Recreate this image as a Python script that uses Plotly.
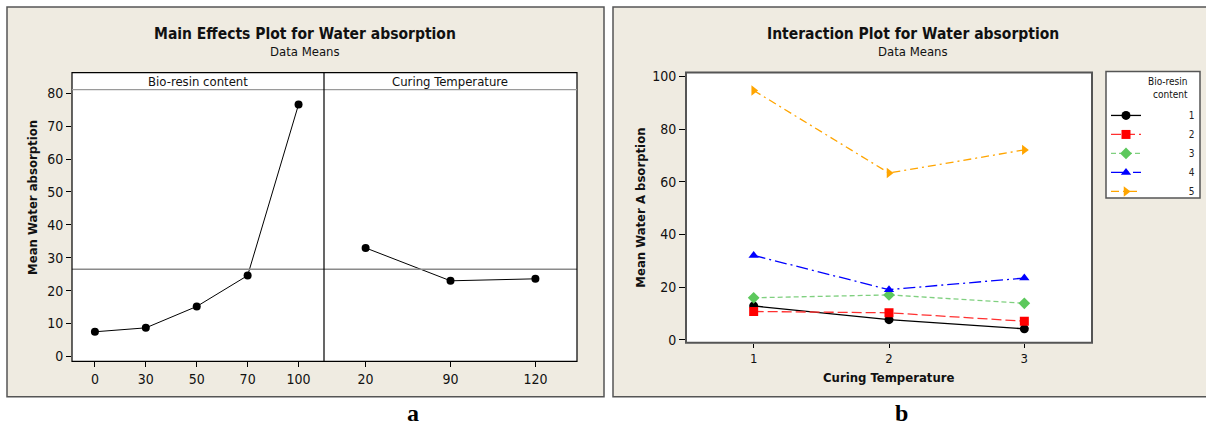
import plotly.graph_objects as go

# ---------------- data ----------------
bio_levels = ["0", "30", "50", "70", "100"]
bio_means = [7.5, 8.7, 15.2, 24.6, 76.6]
temp_levels = ["20", "90", "120"]
temp_means = [33.0, 23.0, 23.6]

curing_x = [1, 2, 3]
series_names = ["1", "2", "3", "4", "5"]
inter_1 = [12.8, 7.6, 4.1]
inter_2 = [10.7, 10.2, 7.0]
inter_3 = [15.9, 17.0, 13.8]
inter_4 = [32.0, 19.0, 23.4]
inter_5 = [94.7, 63.3, 72.1]
inter_values = [inter_1, inter_2, inter_3, inter_4, inter_5]

left_yticks = [0, 10, 20, 30, 40, 50, 60, 70, 80]
right_yticks = [0, 20, 40, 60, 80, 100]

# ---------------- styles ----------------
W, H = 1206, 432
def X(px):
    return px / W
def Y(py):
    return 1 - py / H

BEIGE = "#EFEBE1"
FONT = "DejaVu Sans Condensed, DejaVu Sans, sans-serif"
styles = [
    dict(color="black", dash="solid", symbol="circle", mcolor="black"),
    dict(color="#FF3030", dash="10px,4px", symbol="square", mcolor="#FF0000"),
    dict(color="#80D080", dash="5px,3px", symbol="diamond", mcolor="#5CC85C"),
    dict(color="#0000FF", dash="12px,4px,2px,4px", symbol="triangle-up", mcolor="#0000FF"),
    dict(color="#FFA500", dash="8px,4px,2px,4px", symbol="triangle-right", mcolor="#FFA500"),
]

fig = go.Figure()

# main effects
fig.add_trace(go.Scatter(x=bio_levels, y=bio_means, xaxis="x", yaxis="y",
                         mode="lines+markers", showlegend=False,
                         line=dict(color="black", width=1),
                         marker=dict(color="black", size=8, symbol="circle")))
fig.add_trace(go.Scatter(x=temp_levels, y=temp_means, xaxis="x2", yaxis="y",
                         mode="lines+markers", showlegend=False,
                         line=dict(color="black", width=1),
                         marker=dict(color="black", size=8, symbol="circle")))

# interaction
pad = "\u00a0" * 15
for name, vals, st in zip(series_names, inter_values, styles):
    fig.add_trace(go.Scatter(x=curing_x, y=vals, xaxis="x3", yaxis="y3",
                             mode="lines+markers", name=pad + name,
                             line=dict(color=st["color"], width=1.3, dash=st["dash"]),
                             marker=dict(color=st["mcolor"], size=9, symbol=st["symbol"])))

grand_mean = sum(bio_means) / len(bio_means)

tickfont = dict(family=FONT, size=14, color="#111")
axis_common = dict(showgrid=False, zeroline=False, ticks="outside", ticklen=5,
                   tickcolor="black", tickwidth=1, tickfont=tickfont, showline=False)

fig.update_layout(
    width=W, height=H, margin=dict(l=0, r=0, t=0, b=0),
    paper_bgcolor="white", plot_bgcolor="white",
    font=dict(family=FONT, size=12, color="#222"),
    xaxis=dict(domain=[X(72), X(324)], type="category", range=[-0.45, 4.5],
               anchor="y", **axis_common),
    xaxis2=dict(domain=[X(324), X(577)], type="category", range=[-0.49, 2.49],
                anchor="y", **axis_common),
    yaxis=dict(domain=[Y(365), Y(87.5)], range=[-1.5, 81.1], tickvals=left_yticks,
               anchor="x", **axis_common),
    xaxis3=dict(domain=[X(686), X(1092)], range=[0.5, 3.5], tickvals=curing_x,
                anchor="y3", **{**axis_common, "ticklen": 4,
                                "tickfont": dict(family=FONT, size=13, color="#111")}),
    yaxis3=dict(domain=[Y(346), Y(70)], range=[-1.2, 101.5], tickvals=right_yticks,
                anchor="x3", **{**axis_common, "ticklen": 6}),
    legend=dict(x=X(1106), xanchor="left", y=Y(99), yanchor="top",
                bgcolor="rgba(0,0,0,0)", borderwidth=0,
                font=dict(family=FONT, size=10, color="#222"),
                tracegroupgap=0, itemwidth=30),
)

shapes = []
# beige panels
shapes.append(dict(type="rect", xref="paper", yref="paper", x0=X(7), x1=X(604), y0=Y(401), y1=Y(3),
                   fillcolor=BEIGE, line=dict(color="#555", width=1.5), layer="below"))
shapes.append(dict(type="rect", xref="paper", yref="paper", x0=X(613), x1=X(1210), y0=Y(401), y1=Y(3),
                   fillcolor=BEIGE, line=dict(color="#555", width=1.5), layer="below"))
# left white plot area
shapes.append(dict(type="rect", xref="paper", yref="paper", x0=X(72), x1=X(577), y0=Y(365), y1=Y(70),
                   fillcolor="white", line=dict(width=0), layer="below"))
# right white plot area
shapes.append(dict(type="rect", xref="paper", yref="paper", x0=X(686), x1=X(1092), y0=Y(346), y1=Y(70),
                   fillcolor="white", line=dict(width=0), layer="below"))
# mean line
shapes.append(dict(type="line", xref="paper", yref="y", x0=X(72), x1=X(577), y0=grand_mean, y1=grand_mean,
                   line=dict(color="#8A8A8A", width=1.5)))
# left frame
shapes.append(dict(type="rect", xref="paper", yref="paper", x0=X(72), x1=X(577), y0=Y(365), y1=Y(70),
                   line=dict(color="black", width=1.2)))
shapes.append(dict(type="line", xref="paper", yref="paper", x0=X(72), x1=X(577), y0=Y(87.5), y1=Y(87.5),
                   line=dict(color="#9A9A9A", width=1.2)))
shapes.append(dict(type="line", xref="paper", yref="paper", x0=X(324), x1=X(324), y0=Y(365), y1=Y(70),
                   line=dict(color="black", width=1.2)))
# right frame
shapes.append(dict(type="rect", xref="paper", yref="paper", x0=X(686), x1=X(1092), y0=Y(346), y1=Y(70),
                   line=dict(color="#555", width=2)))
# legend box
shapes.append(dict(type="rect", xref="paper", yref="paper", x0=X(1106), x1=X(1200), y0=Y(198), y1=Y(69),
                   fillcolor="white", line=dict(color="#555", width=1.5), layer="below"))
fig.update_layout(shapes=shapes)

ann = []
def A(text, x, y, size=12, bold=False, angle=0, xanchor="center", align="center", family=FONT, color="#111"):
    ann.append(dict(text=("<b>%s</b>" % text) if bold else text, x=X(x), y=Y(y),
                    xref="paper", yref="paper", showarrow=False, textangle=angle,
                    xanchor=xanchor, yanchor="middle", align=align,
                    font=dict(family=family, size=size, color=color)))

A("Main Effects Plot for Water absorption", 305, 31, size=15.5, bold=True)
A("Data Means", 305, 48, size=13)
A("Bio-resin content", 198, 79, size=13)
A("Curing Temperature", 450, 79, size=13)
A("Mean Water absorption", 33, 198, size=13, bold=True, angle=-90)

A("Interaction Plot for Water absorption", 913, 31, size=15.5, bold=True)
A("Data Means", 913, 48, size=13)
A("Mean Water A bsorption", 641, 208, size=13, bold=True, angle=-90)
A("Curing Temperature", 888, 381, size=13, bold=True)
A("Bio-resin<br>content", 1190, 86, size=10, xanchor="right", align="right")

A("a", 413, 418, size=24, bold=True, family="Liberation Serif, Times New Roman, serif", color="black")
A("b", 901, 418, size=24, bold=True, family="Liberation Serif, Times New Roman, serif", color="black")
fig.update_layout(annotations=ann)

fig.write_html("out.html")
